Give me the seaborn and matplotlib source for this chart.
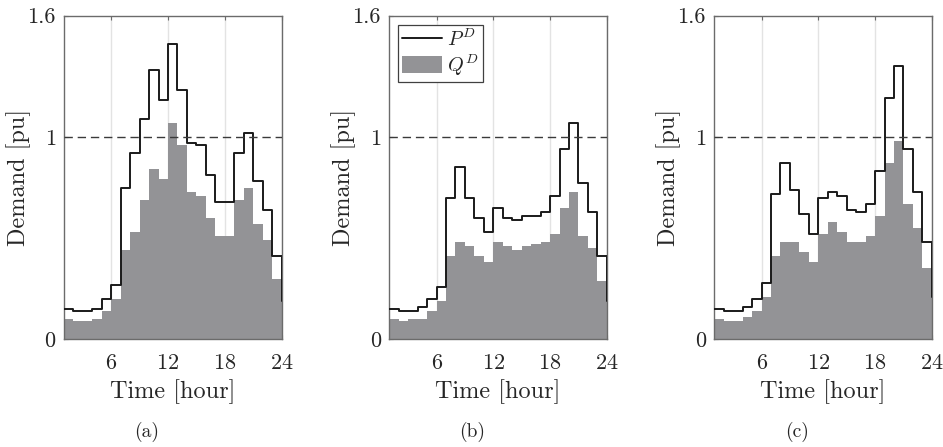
import numpy as np
import pandas as pd
import matplotlib
matplotlib.use("Agg")
import matplotlib.pyplot as plt
import seaborn as sns

hours = list(range(1, 25))

P_a = [0.15, 0.14, 0.14, 0.15, 0.20, 0.27, 0.75, 0.92, 1.09, 1.33, 1.18, 1.46,
       1.23, 0.97, 0.96, 0.81, 0.68, 0.68, 0.92, 1.02, 0.78, 0.64, 0.41, 0.19]
Q_a = [0.10, 0.09, 0.09, 0.10, 0.14, 0.20, 0.44, 0.53, 0.69, 0.84, 0.79, 1.07,
       0.96, 0.73, 0.71, 0.60, 0.51, 0.51, 0.69, 0.75, 0.57, 0.49, 0.30, 0.19]
P_b = [0.15, 0.14, 0.14, 0.16, 0.20, 0.26, 0.70, 0.85, 0.70, 0.60, 0.53, 0.65,
       0.60, 0.59, 0.61, 0.61, 0.63, 0.71, 0.94, 1.07, 0.77, 0.63, 0.41, 0.19]
Q_b = [0.10, 0.09, 0.10, 0.10, 0.14, 0.19, 0.41, 0.48, 0.46, 0.41, 0.38, 0.48,
       0.46, 0.44, 0.46, 0.47, 0.48, 0.52, 0.65, 0.73, 0.51, 0.45, 0.29, 0.19]
P_c = [0.15, 0.14, 0.14, 0.16, 0.20, 0.28, 0.72, 0.87, 0.74, 0.62, 0.52, 0.70,
       0.73, 0.71, 0.64, 0.63, 0.67, 0.83, 1.19, 1.35, 0.94, 0.73, 0.48, 0.21]
Q_c = [0.10, 0.09, 0.09, 0.11, 0.14, 0.21, 0.41, 0.48, 0.48, 0.43, 0.38, 0.52,
       0.58, 0.53, 0.48, 0.48, 0.51, 0.61, 0.87, 0.98, 0.67, 0.55, 0.35, 0.21]

panel_labels = ["(a)", "(b)", "(c)"]
x_ticks = [6, 12, 18, 24]
y_ticks = [0, 1, 1.6]
y_ticklabels = ["0", "1", "1.6"]
series = [(P_a, Q_a), (P_b, Q_b), (P_c, Q_c)]

sns.set_theme(style="white")
plt.rcParams["font.family"] = ["cmr10", "DejaVu Serif"]
plt.rcParams["mathtext.fontset"] = "cm"
plt.rcParams["axes.formatter.use_mathtext"] = True

W, H = 943, 447
fig = plt.figure(figsize=(W / 100, H / 100), dpi=100)

lefts = [64.0, 389.3, 714.3]
ax_w = 217.5
top, bottom = 15.5, 339.3
label_x = [147, 472.5, 797]

gray = "#939396"
spine_c = "#6b6b6b"
txt_c = "#262626"

for i, (P, Q) in enumerate(series):
    ax = fig.add_axes([lefts[i] / W, 1 - bottom / H, ax_w / W, (bottom - top) / H])
    df = pd.DataFrame({"hour": hours, "P": P, "Q": Q})
    ax.fill_between(df["hour"], df["Q"], 0, step="post", color=gray, lw=0,
                    zorder=2, label="$Q^D$")
    sns.lineplot(data=df, x="hour", y="P", ax=ax, drawstyle="steps-post",
                 color="#1a1a1a", lw=1.4, zorder=4, label="$P^D$")
    ax.axhline(1.0, color="#3a3a3a", lw=1.0, dashes=(6, 3.5), zorder=5)
    ax.set_xlim(1, 24)
    ax.set_ylim(0, 1.6)
    ax.set_xticks(x_ticks)
    ax.set_yticks(y_ticks)
    ax.set_yticklabels(y_ticklabels)
    ax.set_axisbelow(True)
    ax.grid(axis="x", color="#e3e3e3", lw=1.0, zorder=0)
    ax.grid(axis="y", visible=False)
    for s in ax.spines.values():
        s.set_visible(True)
        s.set_color(spine_c)
        s.set_linewidth(1.0)
    ax.tick_params(axis="both", direction="in", length=3, width=0.8,
                   color=spine_c, labelsize=16, labelcolor=txt_c,
                   top=True, right=False, bottom=True, left=True)
    ax.tick_params(axis="x", pad=10)
    ax.tick_params(axis="y", pad=6)
    ax.set_xlabel("Time [hour]", fontsize=17.5, color=txt_c, labelpad=5)
    ax.set_ylabel("Demand [pu]", fontsize=17.5, color=txt_c)
    ax.yaxis.set_label_coords(-33 / ax_w, 0.5)
    if i == 1:
        h, l = ax.get_legend_handles_labels()
        order = [l.index("$P^D$"), l.index("$Q^D$")]
        leg = ax.legend([h[k] for k in order], [l[k] for k in order],
                        loc="upper left", bbox_to_anchor=(0.04, 0.972),
                        borderaxespad=0, fontsize=14.5, frameon=True,
                        fancybox=False, framealpha=1, edgecolor="#404040",
                        handlelength=2.0, handleheight=0.9, borderpad=0.2,
                        labelspacing=0.1, handletextpad=0.25)
        leg.get_frame().set_linewidth(0.9)
    else:
        lg = ax.get_legend()
        if lg is not None:
            lg.remove()
    fig.text(label_x[i] / W, 1 - 432 / H, panel_labels[i], ha="center",
             va="center", fontsize=14, color=txt_c)

fig.savefig("out.png", dpi=100)
